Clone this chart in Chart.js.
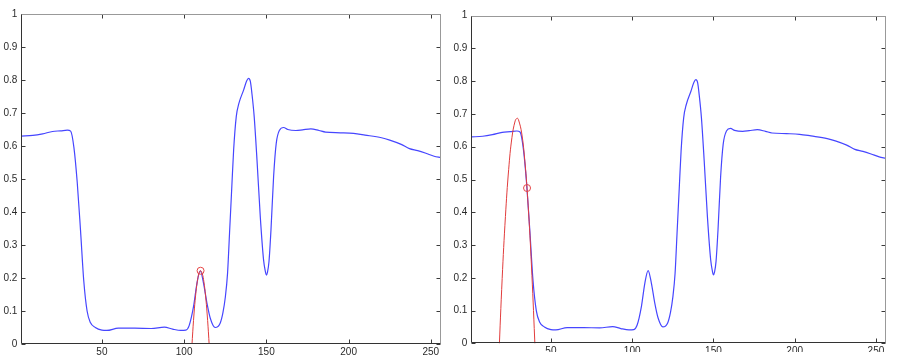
<!DOCTYPE html>
<html>
<head>
<meta charset="utf-8">
<script src="https://cdn.jsdelivr.net/npm/chart.js@4"></script>
<style>
  body { margin: 0; background: #fff; width: 899px; height: 363px; overflow: hidden; }
  .panel { position: absolute; top: 0; overflow: hidden; }
</style>
</head>
<body>
<div class="panel" id="p1" style="left:0;width:449px;height:363px"><canvas id="c1" width="449" height="363"></canvas></div>
<div class="panel" id="p2" style="left:449px;width:450px;height:352px"><canvas id="c2" width="450" height="363"></canvas></div>
<script>
// blue signal
const sigX = [1, 8, 14, 20, 25, 29, 31, 33, 35, 37, 39, 41, 43, 46, 50, 53, 60, 70, 80, 88, 93, 98, 101,
  103, 105.7, 107.8, 109.8, 111.8, 113.9, 115.9, 118.9, 121.9, 123.6, 125, 126.4, 127.6, 129, 130.1, 131.7,
  133.3, 136.2, 138, 139.2, 140.3, 141.2, 142.6, 144.3, 146.3, 148.3, 149.3, 150, 150.7, 151.6, 152.8, 154.4, 156, 158, 160.5,
  163, 168, 172, 177, 182, 186, 195, 203, 210, 220, 225, 232, 237, 242, 247, 252, 256];
const sigY = [0.630, 0.632, 0.637, 0.644, 0.646, 0.648, 0.645, 0.595, 0.490, 0.345, 0.190, 0.100, 0.065, 0.050, 0.042, 0.041, 0.048, 0.048, 0.047, 0.051, 0.045, 0.041, 0.042,
  0.055, 0.113, 0.184, 0.222, 0.184, 0.123, 0.078, 0.050, 0.063, 0.095, 0.140, 0.214, 0.335, 0.477, 0.588, 0.689,
  0.729, 0.770, 0.797, 0.805, 0.795, 0.760, 0.689, 0.558, 0.386, 0.255, 0.222, 0.209, 0.218, 0.250, 0.345, 0.507, 0.608, 0.648, 0.656,
  0.650, 0.647, 0.649, 0.652, 0.647, 0.642, 0.640, 0.638, 0.633, 0.625, 0.618, 0.605, 0.592, 0.586, 0.578, 0.569, 0.565];

// red fitted curve, left panel
const fitLeftX = [103, 104, 105, 106, 107, 108, 109, 110, 111, 112, 113, 114, 115, 116, 117];
const fitLeftY = [-0.18, -0.073, 0.017, 0.091, 0.148, 0.189, 0.214, 0.222, 0.214, 0.189, 0.148, 0.091, 0.017, -0.073, -0.18];
const markLeft = { x: 110, y: 0.222 };

// red fitted curve, right panel
const fitRightX = [17, 18, 20, 22, 24, 26, 28, 29.2, 30, 32, 34, 36, 38, 40, 41];
const fitRightY = [-0.17, -0.038, 0.198, 0.387, 0.531, 0.628, 0.679, 0.687, 0.683, 0.642, 0.554, 0.420, 0.239, 0.013, -0.118];
const markRight = { x: 35.3, y: 0.474 };

const xTicks = [50, 100, 150, 200, 250];
const yTicks = [0, 0.1, 0.2, 0.3, 0.4, 0.5, 0.6, 0.7, 0.8, 0.9, 1];
const yTickLabels = ['0', '0.1', '0.2', '0.3', '0.4', '0.5', '0.6', '0.7', '0.8', '0.9', '1'];

function pts(xs, ys) {
  return xs.map(function (x, i) { return { x: x, y: ys[i] }; });
}

// matlab style frame with inward ticks
const boxPlugin = {
  id: 'box',
  afterDraw: function (chart) {
    var ctx = chart.ctx;
    var a = chart.chartArea;
    var sx = chart.scales.x, sy = chart.scales.y;
    var L = Math.round(a.left) + 0.5, R = Math.round(a.right) - 0.5;
    var T = Math.round(a.top) + 0.5, B = Math.round(a.bottom) - 0.5;
    ctx.save();
    ctx.lineWidth = 1;
    ctx.strokeStyle = '#3a3a3a';
    ctx.beginPath();
    sx.ticks.forEach(function (t) {
      var px = Math.round(sx.getPixelForValue(t.value)) + 0.5;
      ctx.moveTo(px, B); ctx.lineTo(px, B - 4);
      ctx.moveTo(px, T); ctx.lineTo(px, T + 4);
    });
    sy.ticks.forEach(function (t) {
      var py = Math.round(sy.getPixelForValue(t.value)) + 0.5;
      ctx.moveTo(L, py); ctx.lineTo(L + 4, py);
      ctx.moveTo(R, py); ctx.lineTo(R - 4, py);
    });
    ctx.stroke();
    ctx.strokeStyle = '#999';
    ctx.beginPath();
    ctx.moveTo(L, T); ctx.lineTo(R, T); ctx.lineTo(R, B);
    ctx.stroke();
    ctx.strokeStyle = '#333';
    ctx.beginPath();
    ctx.moveTo(L, T); ctx.lineTo(L, B); ctx.lineTo(R, B);
    ctx.stroke();
    ctx.restore();
  }
};

function makeChart(id, fitX, fitY, mark, g) {
  var font = { family: 'Liberation Sans', size: 10 };
  return new Chart(document.getElementById(id), {
    type: 'line',
    data: {
      datasets: [
        {
          data: [mark], showLine: false, pointRadius: 3.5, pointBorderWidth: 1,
          pointBorderColor: 'rgb(230,70,70)', pointBackgroundColor: 'rgba(0,0,0,0)', order: 0
        },
        {
          data: pts(fitX, fitY), borderColor: 'rgb(225,60,60)', borderWidth: 1,
          pointRadius: 0, tension: 0.4, order: 1
        },
        {
          data: pts(sigX, sigY), borderColor: 'rgb(70,70,255)', borderWidth: 1.2,
          pointRadius: 0, cubicInterpolationMode: 'monotone', order: 2
        }
      ]
    },
    options: {
      responsive: false,
      animation: false,
      devicePixelRatio: 1,
      layout: { padding: { top: g.top, right: g.right, left: 0, bottom: 0 } },
      plugins: { legend: { display: false }, tooltip: { enabled: false } },
      scales: {
        x: {
          type: 'linear', min: 1, max: 256,
          afterBuildTicks: function (s) { s.ticks = xTicks.map(function (v) { return { value: v }; }); },
          afterFit: function (s) { s.height = g.bottom; },
          grid: { display: false, drawTicks: false },
          border: { display: false },
          ticks: { font: font, color: '#2a2a2a', padding: 2, maxRotation: 0, autoSkip: false }
        },
        y: {
          type: 'linear', min: 0, max: 1,
          afterBuildTicks: function (s) { s.ticks = yTicks.map(function (v) { return { value: v }; }); },
          afterFit: function (s) { s.width = g.left; },
          grid: { display: false, drawTicks: false },
          border: { display: false },
          ticks: {
            font: font, color: '#2a2a2a', padding: 4, autoSkip: false,
            callback: function (v) { return yTickLabels[yTicks.indexOf(v)]; }
          }
        }
      }
    },
    plugins: [boxPlugin]
  });
}

makeChart('c1', fitLeftX, fitLeftY, markLeft, { top: 14, right: 8.3, left: 21.3, bottom: 19 });
makeChart('c2', fitRightX, fitRightY, markRight, { top: 15.7, right: 13.3, left: 22.3, bottom: 19.7 });
</script>
</body>
</html>
